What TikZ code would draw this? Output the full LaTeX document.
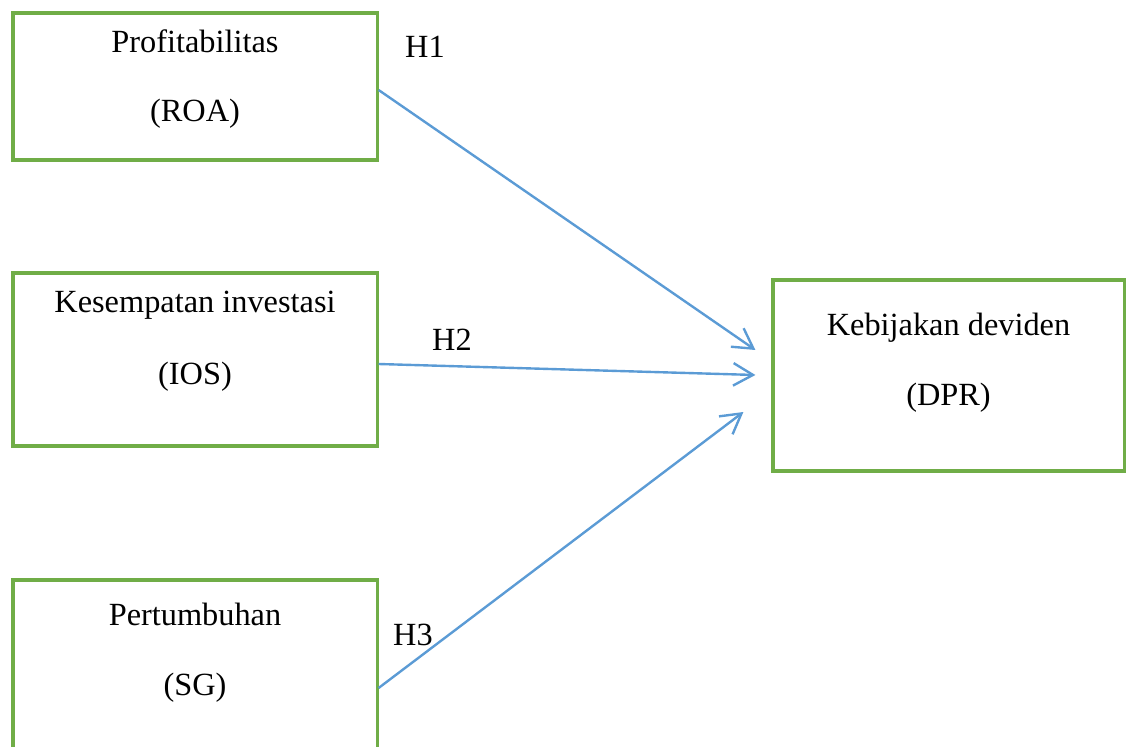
\documentclass[tikz,border=0pt]{standalone}
\usepackage{fontspec}
\setmainfont{Liberation Serif}
\usepackage{tikz}
\usetikzlibrary{arrows.meta,calc,positioning}
\definecolor{boxgreen}{RGB}{112,173,71}
\definecolor{arrowblue}{RGB}{91,155,213}

\tikzset{
  varbox/.style={draw=boxgreen,line width=2.2pt,rectangle,minimum width=9.1cm},
  vartext/.style={align=center,font=\fontsize{23}{27}\selectfont},
  hyp/.style={font=\fontsize{23}{27}\selectfont},
  link/.style={arrowblue,line width=1.7pt,-{Straight Barb[length=14pt,width=16pt]}}
}

\begin{document}
\begin{tikzpicture}[x=0.025cm,y=-0.025cm]
\useasboundingbox (0,0) rectangle (1130,747);
\clip (0,0) rectangle (1130,747);

% variabel independen
\node[varbox,minimum height=3.675cm] (roa) at (195,86.5) {};
\node[varbox,minimum height=4.325cm] (ios) at (195,359.5) {};
\node[varbox,minimum height=5cm] (sg) at (195,680) {};
\node[vartext] (roatxt) at (195,79) {Profitabilitas\\[22pt](ROA)};
\node[vartext] (iostxt) at (195,341.5) {Kesempatan investasi\\[24pt](IOS)};
\node[vartext] (sgtxt) at (195,652.5) {Pertumbuhan\\[23pt](SG)};

% variabel dependen
\node[varbox,minimum width=8.775cm,minimum height=4.775cm] (dpr) at (948.5,375.5) {};
\node[vartext] (dprtxt) at (948.5,362.5) {Kebijakan deviden\\[23pt](DPR)};

\coordinate (s1) at ($(roa.east)+(0,3.5)$);
\coordinate (s2) at ($(ios.east)+(0,4.5)$);
\coordinate (s3) at ($(sg.east)+(0,8)$);
\coordinate (e1) at ($(dpr.west)+(-16,-25.5)$);
\coordinate (e2) at ($(dpr.west)+(-16,-0.5)$);
\coordinate (e3) at ($(dpr.west)+(-28,36.5)$);

\draw[link] (s1) -- (e1);
\draw[link] (s2) -- (e2);
\draw[link] (s3) -- (e3);

\node[hyp] (h1) at (425,47) {H1};
\node[hyp] (h2) at (452,340) {H2};
\node[hyp] (h3) at (413,635) {H3};
\end{tikzpicture}
\end{document}
